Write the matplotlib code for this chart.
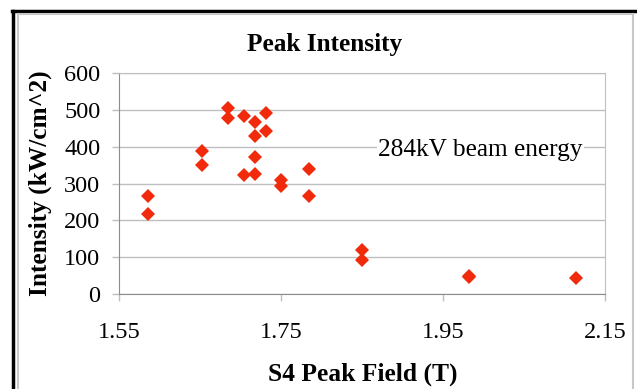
import matplotlib.pyplot as plt
from matplotlib.lines import Line2D

plt.rcParams['font.family'] = ['Liberation Serif', 'DejaVu Serif']

# S4 peak field (T) and peak intensity (kW/cm^2)
field = [1.586, 1.586, 1.652, 1.652, 1.685, 1.685, 1.704, 1.704,
         1.7175, 1.7175, 1.7175, 1.7175, 1.731, 1.731, 1.750, 1.750,
         1.784, 1.784, 1.850, 1.850, 1.982, 1.982, 2.114]
intensity = [267, 217, 387, 349, 504, 479, 484, 323,
             468, 430, 373, 325, 492, 443, 310, 292,
             340, 266, 119, 91, 50, 45, 43]

xticks = [1.55, 1.75, 1.95, 2.15]
yticks = [0, 100, 200, 300, 400, 500, 600]

W, H = 637, 389
fig = plt.figure(figsize=(W / 100, H / 100), dpi=100)
ax = fig.add_axes([119 / W, 1 - 294 / H, (605 - 119) / W, (294 - 73) / H])

ax.plot(field, intensity, 'D', color='#f02a0a', markersize=7.2,
        markeredgewidth=0, zorder=3)

ax.set_xlim(1.55, 2.15)
ax.set_ylim(0, 600)
ax.set_xticks(xticks)
ax.set_xticklabels(['%.2f' % t for t in xticks])
ax.set_yticks(yticks)
ax.grid(axis='y', color='#bfbfbf', linewidth=1)
ax.set_axisbelow(True)
for s in ax.spines.values():
    s.set_color('#bfbfbf')
ax.spines['left'].set_color('#8c8c8c')
ax.spines['bottom'].set_color('#8c8c8c')
ax.tick_params(axis='both', labelsize=17.5, color='#bfbfbf', length=5,
               width=1, direction='out')
ax.tick_params(axis='x', pad=15)
ax.tick_params(axis='y', pad=8.5)

ax.text(1.996, 391, '284kV beam energy', fontsize=18.3, ha='center',
        va='center', bbox=dict(facecolor='white', edgecolor='none', pad=1))

fig.text(325 / W, 1 - 44 / H, 'Peak Intensity', fontsize=18.2,
         fontweight='bold', ha='center', va='center')
fig.text(363 / W, 1 - 374 / H, 'S4 Peak Field (T)', fontsize=18.4,
         fontweight='bold', ha='center', va='center')
fig.text(40 / W, 1 - 183 / H, 'Intensity (kW/cm^2)', fontsize=18.3,
         fontweight='bold', ha='center', va='center', rotation=90)

# outer frame: black top/left, gray inner border
fig.add_artist(Line2D([13 / W, 13 / W], [0, 1 - 11 / H], color='black',
                      linewidth=2.5, transform=fig.transFigure))
fig.add_artist(Line2D([12 / W, 637 / W], [1 - 11 / H, 1 - 11 / H],
                      color='black', linewidth=2.5, transform=fig.transFigure))
fig.add_artist(Line2D([18 / W, 18 / W], [0, 1 - 14 / H], color='#c8c8c8',
                      linewidth=1.5, transform=fig.transFigure))
fig.add_artist(Line2D([18 / W, 633 / W], [1 - 14 / H, 1 - 14 / H],
                      color='#c8c8c8', linewidth=1.5, transform=fig.transFigure))
fig.add_artist(Line2D([633 / W, 633 / W], [0, 1 - 14 / H], color='#c8c8c8',
                      linewidth=1.5, transform=fig.transFigure))

fig.savefig('out.png', dpi=100)
